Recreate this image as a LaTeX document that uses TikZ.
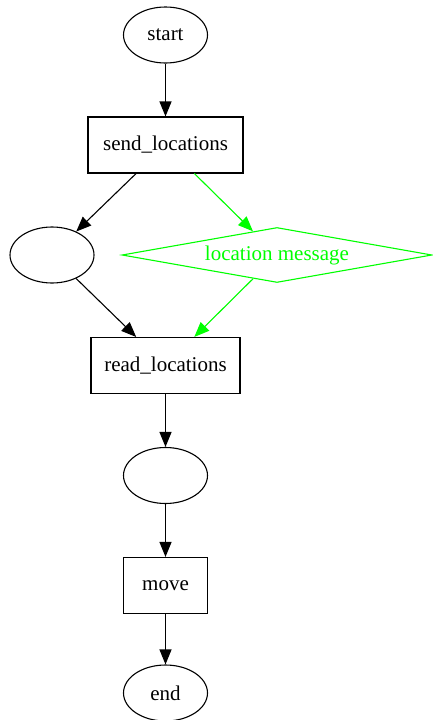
\documentclass[tikz,border=0pt]{standalone}
\usepackage{fontspec}
\setmainfont{Liberation Serif}
\usetikzlibrary{shapes.geometric,arrows.meta}
\definecolor{gvgreen}{RGB}{0,255,0}
\tikzset{
  base/.style={font=\fontsize{21}{24}\selectfont, line width=1.1pt, inner sep=0pt},
  oval/.style={base, draw, ellipse, minimum width=84pt, minimum height=56pt},
  boxnode/.style={base, draw, rectangle, minimum height=56pt},
  msg/.style={base, draw=gvgreen, text=gvgreen, diamond, minimum width=310pt, minimum height=55pt, aspect=5.6},
  edge/.style={line width=1.1pt, -{Triangle[length=15pt,width=12pt]}},
  gedge/.style={edge, draw=gvgreen, fill=gvgreen}
}
\begin{document}
\begin{tikzpicture}[x=1pt,y=-1pt]
\useasboundingbox (0,0) rectangle (432,720);
\node[oval] (start) at (165.5,35) {start};
\node[boxnode, minimum width=155pt] (send) at (165.5,145) {send\_locations};
\node[oval] (e1) at (52,255) {};
\node[msg] (msg) at (277,255) {location message};
\node[boxnode, minimum width=149pt] (read) at (165.5,365.5) {read\_locations};
\node[oval] (e2) at (165.5,475.5) {};
\node[boxnode, minimum width=84pt] (move) at (165.5,585.5) {move};
\node[oval] (end) at (165.5,693) {end};
\draw[edge] (start) -- (send);
\draw[edge] (send) -- (e1);
\draw[gedge] (send) -- (msg);
\draw[edge] (e1) -- (read);
\draw[gedge] (msg) -- (read);
\draw[edge] (read) -- (e2);
\draw[edge] (e2) -- (move);
\draw[edge] (move) -- (end);
\end{tikzpicture}
\end{document}
